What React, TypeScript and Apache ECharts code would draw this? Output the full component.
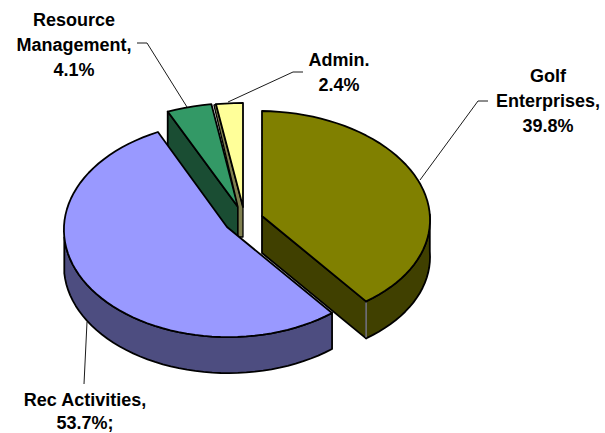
import React, { useEffect, useRef } from "react";
import * as echarts from "echarts";

// Budget shares by division, in percent, clockwise from twelve o'clock.
const CATEGORIES = ["Golf Enterprises", "Rec Activities", "Resource Management", "Admin."];
const SHARES = [39.8, 53.7, 4.1, 2.4];

const LABEL_LINES = [
  ["Golf", "Enterprises,", "39.8%"],
  ["Rec Activities,", "53.7%;"],
  ["Resource", "Management,", "4.1%"],
  ["Admin.", "2.4%"],
];

const TOP_COLORS = ["#808000", "#9999ff", "#339966", "#ffff99"];
const WALL_COLORS = ["#404000", "#4d4d80", "#1a4d33", "#808050"];

// Projection of each exploded slice: apex on the page, plus the tilted ellipse its rim follows.
type Geometry = {
  apex: [number, number];
  offset: [number, number];
  xAxis: [number, number]; // x contribution of sin and cos
  yAxis: [number, number]; // y contribution of sin and cos
  depth: number;
  rimWall?: [number, number]; // part of the rim whose outer wall faces the viewer, in degrees
  cutWall?: "start" | "end" | "sliver"; // straight cut face that is visible
};

const GEOMETRY: Geometry[] = [
  { apex: [262, 216], offset: [3, 0], xAxis: [165, -3], yAxis: [2, -105], depth: 37, rimWall: [88, 143.28], cutWall: "end" },
  { apex: [227, 227], offset: [1.8, 2.2], xAxis: [164.8, -5.9], yAxis: [-4.4, -107.8], depth: 36, rimWall: [143.28, 268] },
  { apex: [238, 207], offset: [0, 0], xAxis: [177, 0], yAxis: [0, -104], depth: 36, cutWall: "start" },
  { apex: [243, 207], offset: [0, 0], xAxis: [180, 0], yAxis: [0, -104], depth: 30, cutWall: "sliver" },
];

// Back slices first, so the large slices overlap the walls behind them.
const DRAW_ORDER = [2, 3, 0, 1];

// Centre x of each label, the centre y of its first line, and the distance between its lines.
const LABEL_ANCHORS: [number, number, number][] = [
  [548, 76, 25],
  [85, 400, 23],
  [74, 20, 25],
  [339, 60, 25],
];

const LEADER_LINES: [number, number][][] = [
  [[420, 180], [478, 101], [488, 101]],
  [[87, 322], [84, 384]],
  [[137, 43], [147, 43], [187, 107]],
  [[303, 72], [293, 72], [228, 102]],
];

const rim = (g: Geometry, deg: number): [number, number] => {
  const t = (deg * Math.PI) / 180;
  const s = Math.sin(t);
  const c = Math.cos(t);
  return [
    g.apex[0] + g.offset[0] + g.xAxis[0] * s + g.xAxis[1] * c,
    g.apex[1] + g.offset[1] + g.yAxis[0] * s + g.yAxis[1] * c,
  ];
};

const arc = (g: Geometry, from: number, to: number): [number, number][] => {
  const steps = Math.max(2, Math.ceil((to - from) / 3));
  const pts: [number, number][] = [];
  for (let i = 0; i <= steps; i++) pts.push(rim(g, from + ((to - from) * i) / steps));
  return pts;
};

const drop = (p: [number, number], d: number): [number, number] => [p[0], p[1] + d];

const outline = { stroke: "#000000", lineWidth: 1.8, lineJoin: "round" as const };

const renderSlice = (_params: unknown, api: any) => {
  const index = api.value(0) as number;
  const start = api.value(1) as number;
  const end = start + ((api.value(2) as number) / 100) * 360;
  const g = GEOMETRY[index];
  const wallStyle = { fill: WALL_COLORS[index], ...outline };
  const children: any[] = [];

  if (g.cutWall) {
    const angle = g.cutWall === "end" ? end : start;
    const edge = rim(g, angle);
    const points =
      g.cutWall === "sliver"
        ? [
            edge,
            g.apex,
            drop(g.apex, g.depth),
            [g.apex[0] - 5, g.apex[1] + g.depth],
            [g.apex[0] - 5, g.apex[1]],
            [edge[0] - 2, edge[1] + 1],
          ]
        : [edge, g.apex, drop(g.apex, g.depth), drop(edge, g.depth)];
    children.push({
      type: "polygon",
      shape: { points },
      style: g.cutWall === "sliver" ? { ...wallStyle, lineWidth: 1.3 } : wallStyle,
    });
  }
  if (g.rimWall) {
    const top = arc(g, g.rimWall[0], g.rimWall[1]);
    const bottom = top.map((p) => drop(p, g.depth)).reverse();
    children.push({ type: "polygon", shape: { points: [...top, ...bottom] }, style: wallStyle });
  }
  if (g.cutWall === "end") {
    // Pale seam where the cut face meets the rounded wall.
    const tip = rim(g, end);
    children.push({
      type: "line",
      shape: { x1: tip[0], y1: tip[1] + 1, x2: tip[0], y2: tip[1] + g.depth - 1 },
      style: { stroke: "#c8c8c8", lineWidth: 1 },
    });
  }
  children.push({
    type: "polygon",
    shape: { points: [g.apex, ...arc(g, start, end)] },
    style: { fill: TOP_COLORS[index], ...outline },
  });
  return { type: "group", children };
};

const buildOption = () => {
  const starts = SHARES.map((_, i) =>
    SHARES.slice(0, i).reduce((sum, v) => sum + (v / 100) * 360, 0)
  );
  return {
    animation: false,
    backgroundColor: "#ffffff",
    series: [
      {
        type: "custom",
        name: "Budget share",
        coordinateSystem: "none",
        silent: true,
        renderItem: renderSlice,
        data: DRAW_ORDER.map((i) => ({ name: CATEGORIES[i], value: [i, starts[i], SHARES[i]] })),
      },
    ],
    graphic: [
      ...LEADER_LINES.map((points) => ({
        type: "polyline",
        silent: true,
        shape: { points },
        style: { stroke: "#1a1a1a", lineWidth: 1, fill: "none" },
      })),
      ...LABEL_LINES.flatMap((lines, i) =>
        lines.map((text, j) => ({
          type: "text",
          silent: true,
          x: LABEL_ANCHORS[i][0],
          y: LABEL_ANCHORS[i][1] + j * LABEL_ANCHORS[i][2],
          style: {
            text,
            fill: "#000000",
            fontFamily: "Liberation Sans",
            fontWeight: "bold",
            fontSize: 18,
            lineHeight: 15,
            textAlign: "center",
            textVerticalAlign: "middle",
          },
        }))
      ),
    ],
  };
};

export default function App() {
  const ref = useRef<HTMLDivElement>(null);
  useEffect(() => {
    if (!ref.current) return;
    const chart = echarts.init(ref.current, undefined, { renderer: "svg" });
    chart.setOption(buildOption());
    return () => chart.dispose();
  }, []);
  return <div ref={ref} style={{ position: "fixed", left: 0, top: 0, width: 605, height: 433 }} />;
}
